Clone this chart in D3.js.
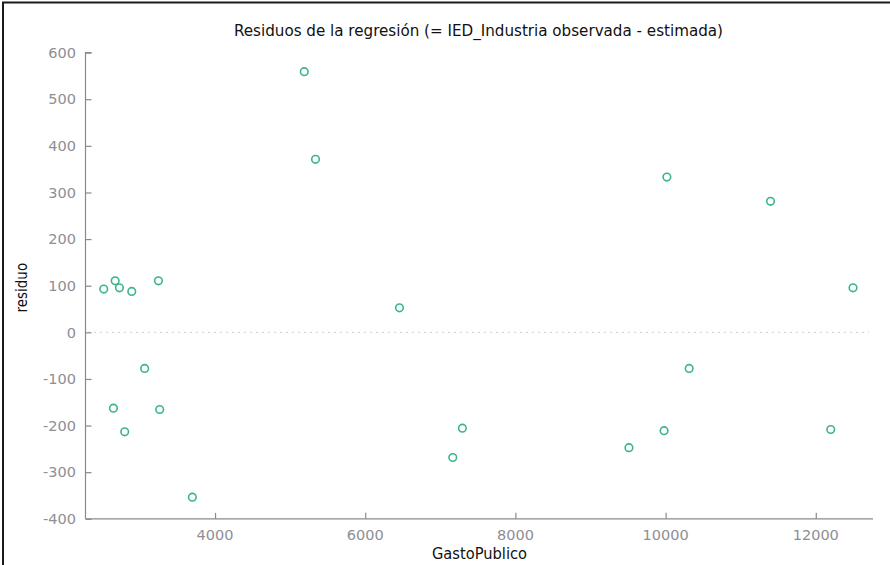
<!DOCTYPE html>
<html>
<head>
<meta charset="utf-8">
<script src="https://cdn.jsdelivr.net/npm/d3@7"></script>
<style>
  html, body { margin: 0; padding: 0; background: #fff; }
  svg { display: block; }
</style>
</head>
<body>
<svg id="chart" width="890" height="565"></svg>
<script>
const titleText = "Residuos de la regresión (= IED_Industria observada - estimada)";
const xLabel = "GastoPublico";
const yLabel = "residuo";
const xTicks = [4000, 6000, 8000, 10000, 12000];
const yTicks = [-400, -300, -200, -100, 0, 100, 200, 300, 400, 500, 600];
const gastoPublico = [2518, 2670, 2727, 2891, 3246, 3063, 2647, 3263, 2797, 3698,
                      5188, 5338, 6456, 7166, 7294, 9512, 9980, 10017, 10314, 11397, 12199, 12496];
const residuo = [92.7, 110.5, 95.5, 87.8, 110.5, -77.5, -162.7, -165.5, -213.5, -353.6,
                 559, 371, 52.6, -268.5, -205.6, -247.4, -211, 333, -77.5, 281, -208.4, 95.5];

const svg = d3.select("#chart");
const pLeft = 85.5, pRight = 873, pTop = 52.6, pBottom = 518.8;

const x = d3.scaleLinear().domain([2275, 12762]).range([pLeft, pRight]);
const y = d3.scaleLinear().domain([-400, 600]).range([pBottom, pTop]);

// frame border (left & top)
svg.append("path")
  .attr("d", "M3,570 L3,2.5 L895,2.5")
  .attr("fill", "none").attr("stroke", "#1a1a1a").attr("stroke-width", 2);

const labelFont = "'DejaVu Sans Condensed', 'DejaVu Sans', sans-serif";

// title
svg.append("text")
  .attr("x", 478.5).attr("y", 36)
  .attr("text-anchor", "middle")
  .attr("font-family", labelFont)
  .attr("font-size", 15).attr("fill", "#111")
  .attr("textLength", 489).attr("lengthAdjust", "spacingAndGlyphs")
  .text(titleText);

// axes
const axisColor = "#8a8a8a";
const gy = svg.append("g").attr("transform", `translate(${pLeft},0)`)
  .call(d3.axisRight(y).tickValues(yTicks).tickSize(6).tickFormat(d3.format("d")));
gy.selectAll("text").remove();
gy.select(".domain").attr("d", `M6,${pTop}H0V${pBottom}`);

const gx = svg.append("g").attr("transform", `translate(0,${pBottom})`)
  .call(d3.axisTop(x).tickValues(xTicks).tickSize(6));
gx.selectAll("text").remove();
gx.select(".domain").attr("d", `M${pLeft},0H${pRight}`);

svg.selectAll(".domain, .tick line").attr("stroke", axisColor).attr("stroke-width", 1.2);

// tick labels
const tickFont = "'DejaVu Sans', Verdana, sans-serif";
svg.append("g").selectAll("text").data(yTicks).join("text")
  .attr("x", 76).attr("y", d => y(d)).attr("dy", "0.36em")
  .attr("text-anchor", "end")
  .attr("font-family", tickFont).attr("font-size", 14.5).attr("fill", "#8e8e94")
  .text(d => d);
svg.append("g").selectAll("text").data(xTicks).join("text")
  .attr("x", d => x(d)).attr("y", 539.5)
  .attr("text-anchor", "middle")
  .attr("font-family", tickFont).attr("font-size", 14.5).attr("fill", "#8e8e94")
  .text(d => d);

// axis titles
svg.append("text")
  .attr("x", 479.5).attr("y", 559)
  .attr("text-anchor", "middle")
  .attr("font-family", labelFont)
  .attr("font-size", 15).attr("fill", "#111")
  .attr("textLength", 95).attr("lengthAdjust", "spacingAndGlyphs")
  .text(xLabel);
svg.append("text")
  .attr("transform", `translate(27,${(pTop + pBottom) / 2 + 2}) rotate(-90)`)
  .attr("text-anchor", "middle")
  .attr("font-family", labelFont)
  .attr("font-size", 15).attr("fill", "#111")
  .text(yLabel);

// zero line
svg.append("line")
  .attr("x1", pLeft + 3).attr("x2", 869)
  .attr("y1", y(0)).attr("y2", y(0))
  .attr("stroke", "#9a9a9a").attr("stroke-width", 1)
  .attr("stroke-dasharray", "1,5");

// points
svg.append("g").selectAll("circle")
  .data(gastoPublico.map((g, i) => [g, residuo[i]]))
  .join("circle")
  .attr("cx", d => x(d[0])).attr("cy", d => y(d[1]))
  .attr("r", 3.8)
  .attr("fill", "none")
  .attr("stroke", "#3bb58a")
  .attr("stroke-width", 1.6);
</script>
</body>
</html>
